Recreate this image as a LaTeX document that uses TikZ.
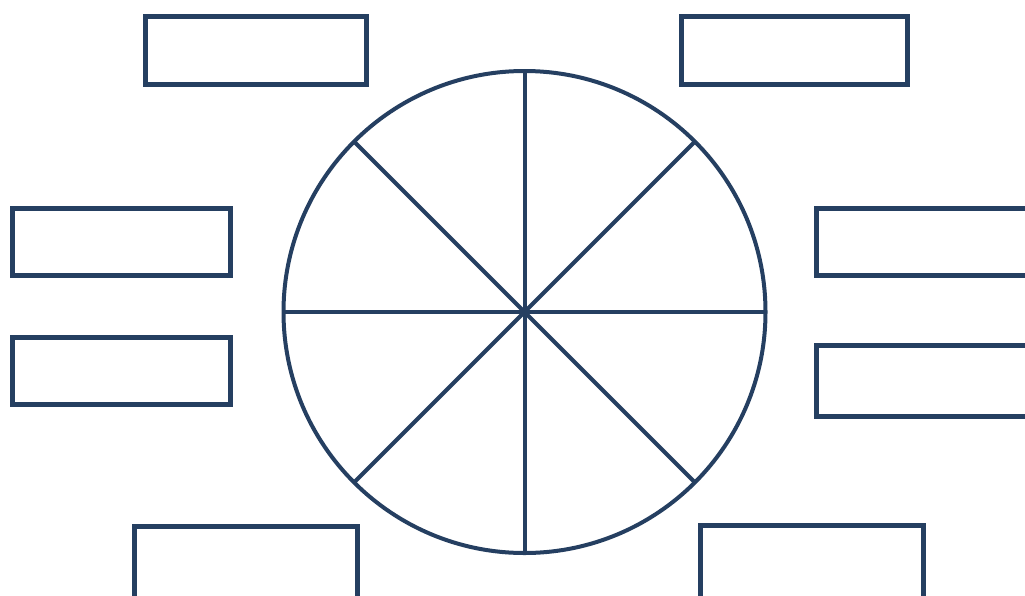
\documentclass[tikz,border=0pt]{standalone}
\definecolor{navy}{RGB}{37,63,97}
\begin{document}
\begin{tikzpicture}[x=1pt,y=-1pt,
  box/.style={draw=navy,line width=5pt,rectangle,inner sep=0pt,outer sep=0pt,fill=white},
  wheel/.style={draw=navy,line width=4pt,circle,inner sep=0pt,outer sep=0pt,minimum size=482pt},
  spoke/.style={draw=navy,line width=4pt}]
\useasboundingbox (0,0) rectangle (1025,595);
\clip (0,0) rectangle (1025,595);
\node[wheel] (c) at (524.5,312) {};
\draw[spoke] (c.north) -- (c.south);
\draw[spoke] (c.east) -- (c.west);
\draw[spoke] (c.45) -- (c.225);
\draw[spoke] (c.135) -- (c.315);
\node[box,minimum width=221pt,minimum height=68pt] (tl) at (256,50.5) {};
\node[box,minimum width=226.5pt,minimum height=68pt] (tr) at (794.25,50.5) {};
\node[box,minimum width=217.5pt,minimum height=67pt] (l1) at (121.25,241.5) {};
\node[box,minimum width=217.5pt,minimum height=67pt] (l2) at (121.25,370.5) {};
\node[box,minimum width=240pt,minimum height=67pt] (r1) at (936,241.5) {};
\node[box,minimum width=240pt,minimum height=71pt] (r2) at (936,380.5) {};
\node[box,minimum width=223pt,minimum height=80pt] (bl) at (245.5,566) {};
\node[box,minimum width=223pt,minimum height=80pt] (br) at (812,565) {};
\end{tikzpicture}
\end{document}
